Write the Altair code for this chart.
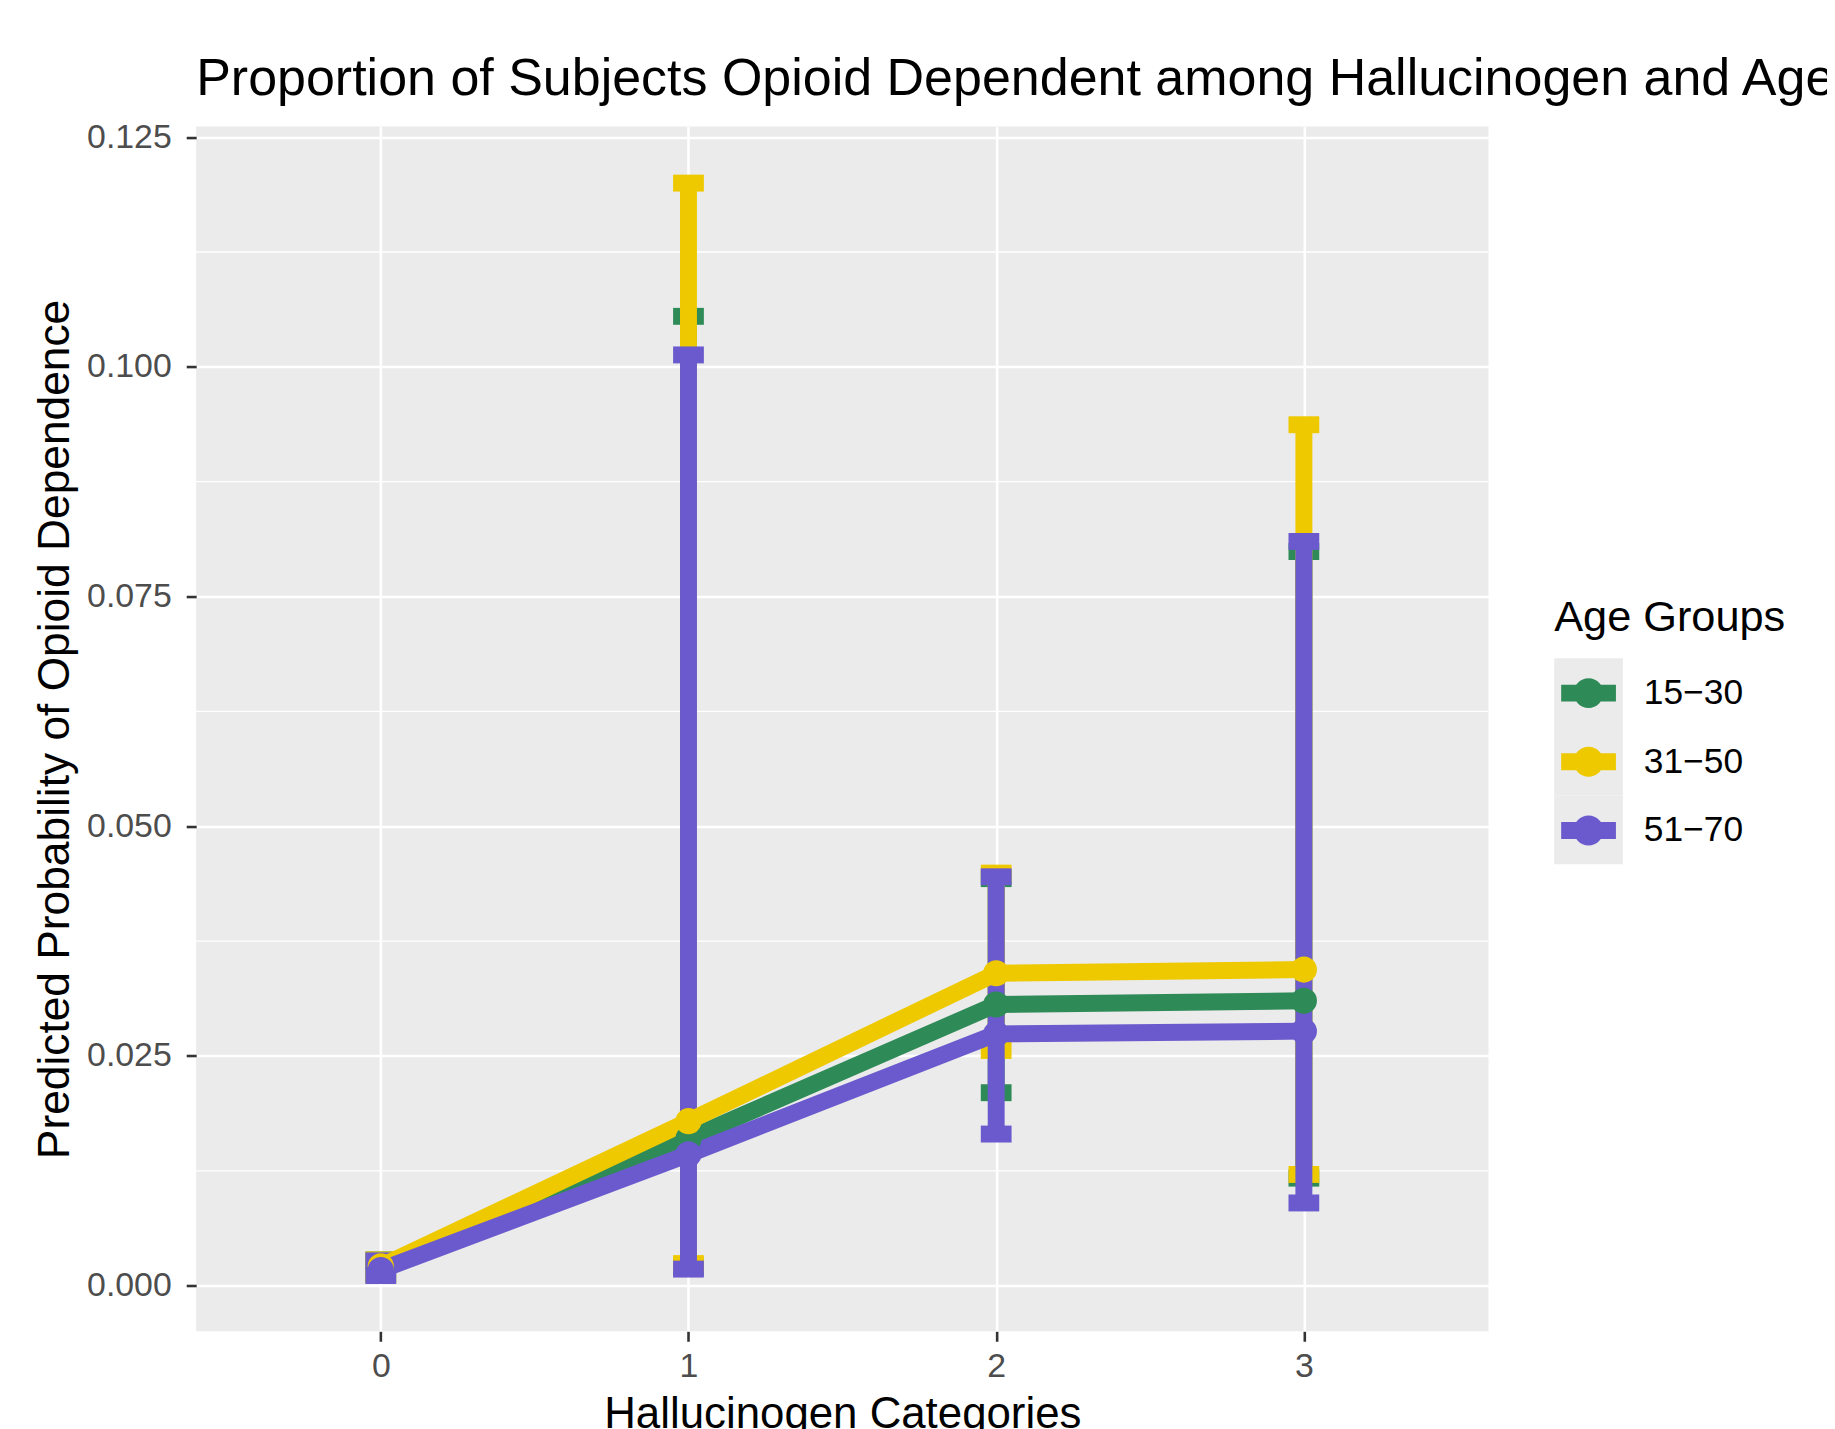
import altair as alt
import pandas as pd

# ---------------- data ----------------
categories = [0, 1, 2, 3]
groups = ["15−30", "31−50", "51−70"]
colors = ["#2E8B57", "#EEC900", "#6A5ACD"]

mean_15_30 = [0.0019, 0.0160, 0.0306, 0.0310]
low_15_30 = [0.0012, 0.0020, 0.0210, 0.0117]
high_15_30 = [0.0028, 0.1055, 0.0443, 0.0799]

mean_31_50 = [0.0021, 0.0179, 0.0340, 0.0344]
low_31_50 = [0.0012, 0.0024, 0.0256, 0.0121]
high_31_50 = [0.0028, 0.1200, 0.0449, 0.0937]

mean_51_70 = [0.0017, 0.0143, 0.0274, 0.0277]
low_51_70 = [0.0011, 0.0018, 0.0165, 0.0090]
high_51_70 = [0.0027, 0.1013, 0.0445, 0.0810]

errorbar_width = 0.1
y_major = [0.0, 0.025, 0.05, 0.075, 0.1, 0.125]
y_minor = [0.0125, 0.0375, 0.0625, 0.0875, 0.1125]
bg_keys = ["a", "b", "c"]

series = [
    (groups[0], mean_15_30, low_15_30, high_15_30),
    (groups[1], mean_31_50, low_31_50, high_31_50),
    (groups[2], mean_51_70, low_51_70, high_51_70),
]

# ---------------- tables ----------------
pt_rows = []
seg_rows = []
order = 0
for k, (g, m, lo, hi) in enumerate(series):
    for i, x in enumerate(categories):
        pt_rows.append({"group": g, "x": x, "y": m[i], "bg": bg_keys[k]})
        half = errorbar_width / 2
        seg_rows.append({"group": g, "x": x - half, "x2": x + half, "y": hi[i], "y2": hi[i], "o": order}); order += 1
        seg_rows.append({"group": g, "x": x, "x2": x, "y": lo[i], "y2": hi[i], "o": order}); order += 1
        seg_rows.append({"group": g, "x": x - half, "x2": x + half, "y": lo[i], "y2": lo[i], "o": order}); order += 1

pts = pd.DataFrame(pt_rows)
segs = pd.DataFrame(seg_rows)
minor = pd.DataFrame({"v": y_minor})

FONT = "Liberation Sans"

x_scale = alt.Scale(domain=[-0.6, 3.6], nice=False, zero=False)
y_scale = alt.Scale(domain=[-0.00497, 0.12615], nice=False, zero=False)
color_scale = alt.Scale(domain=groups, range=colors)

x_axis = alt.Axis(
    values=categories, format="d", grid=True, gridColor="white", gridWidth=2.6,
    ticks=True, tickColor="#333333", tickWidth=2.6, tickSize=10,
    labelFontSize=34, labelColor="#4D4D4D", labelPadding=8, labelFont=FONT,
    domain=False, title="Hallucinogen Categories", titleFontSize=44,
    titleColor="black", titleFontWeight="normal", titleFont=FONT, titlePadding=10,
)
y_axis = alt.Axis(
    values=y_major, format=".3f", grid=True, gridColor="white", gridWidth=2.6,
    ticks=True, tickColor="#333333", tickWidth=2.6, tickSize=10,
    labelFontSize=34, labelColor="#4D4D4D", labelPadding=15, labelFont=FONT,
    domain=False, title="Predicted Probability of Opioid Dependence", titleFontSize=44.5,
    titleColor="black", titleFontWeight="normal", titleFont=FONT, titlePadding=9,
)

X = alt.X("x:Q", scale=x_scale, axis=x_axis)
Y = alt.Y("y:Q", scale=y_scale, axis=y_axis)

# key glyph: horizontal bar + circle; the two zero-length subpaths fix the key's box to [-1, 1]
key_path = ("M-1,-1L-1,-1M1,1L1,1 "
            "M-0.797,-0.246H0.797V0.246H-0.797Z "
            "M0.435,0A0.435,0.435,0,1,1,-0.435,0A0.435,0.435,0,1,1,0.435,0Z")

color_legend = alt.Legend(
    title="Age Groups", orient="none", legendX=1364, legendY=473, direction="vertical",
    symbolType=key_path, symbolSize=69 * 69, symbolStrokeWidth=0, symbolOpacity=1,
    rowPadding=0, labelOffset=21, labelFontSize=35.5, labelColor="black", labelFont=FONT,
    titleFontSize=43.5, titleColor="black", titleFontWeight="normal", titleFont=FONT,
    titlePadding=18, titleLimit=500, labelLimit=300, padding=0, offset=0, zindex=2,
)
bg_legend = alt.Legend(
    title=None, orient="none", legendX=1364, legendY=534, direction="vertical",
    symbolType="square", symbolSize=69 * 69, symbolStrokeWidth=0, symbolOpacity=1,
    rowPadding=0, labelExpr="''", labelFontSize=1, padding=0, offset=0, zindex=1,
)

minor_grid = alt.Chart(minor).mark_rule(color="white", strokeWidth=1.3).encode(
    y=alt.Y("v:Q", scale=y_scale, axis=y_axis)
)

legend_carrier = alt.Chart(pts).transform_filter("false").mark_circle(opacity=1, size=700).encode(
    x=X, y=Y, color=alt.Color("group:N", scale=color_scale, legend=color_legend)
)

errorbars = alt.Chart(segs).mark_rule(strokeWidth=17, strokeCap="butt").encode(
    x=X, x2="x2:Q", y=Y, y2="y2:Q",
    color=alt.Color("group:N", scale=color_scale),
    order=alt.Order("o:Q"),
)

lines = alt.Chart(pts).mark_line(strokeWidth=17, strokeCap="butt", strokeJoin="round").encode(
    x=X, y=Y, color=alt.Color("group:N", scale=color_scale),
)

points = alt.Chart(pts).mark_circle(opacity=1, size=690).encode(
    x=X, y=Y, color=alt.Color("group:N", scale=color_scale),
)

bg_layer = alt.Chart(pts).transform_filter("false").mark_square(opacity=1, size=10).encode(
    x=X, y=Y, fill=alt.Fill("bg:N", scale=alt.Scale(domain=bg_keys, range=["#EBEBEB"] * 3), legend=bg_legend)
)

chart = alt.layer(minor_grid, legend_carrier, errorbars, lines, points, bg_layer).properties(
    width=1298, height=1210,
    padding={"left": 189, "top": 116, "right": 340, "bottom": 95},
    autosize=alt.AutoSizeParams(type="none"),
    title=alt.TitleParams(
        text="Proportion of Subjects Opioid Dependent among Hallucinogen and Age",
        anchor="start", frame="group", fontSize=52.2, font=FONT, color="black",
        fontWeight="normal", offset=14, baseline="top",
    ),
).configure(background="white").configure_view(fill="#EBEBEB", stroke=None, strokeWidth=0)

chart.save("out.html", embed_options={"renderer": "svg", "actions": False})
